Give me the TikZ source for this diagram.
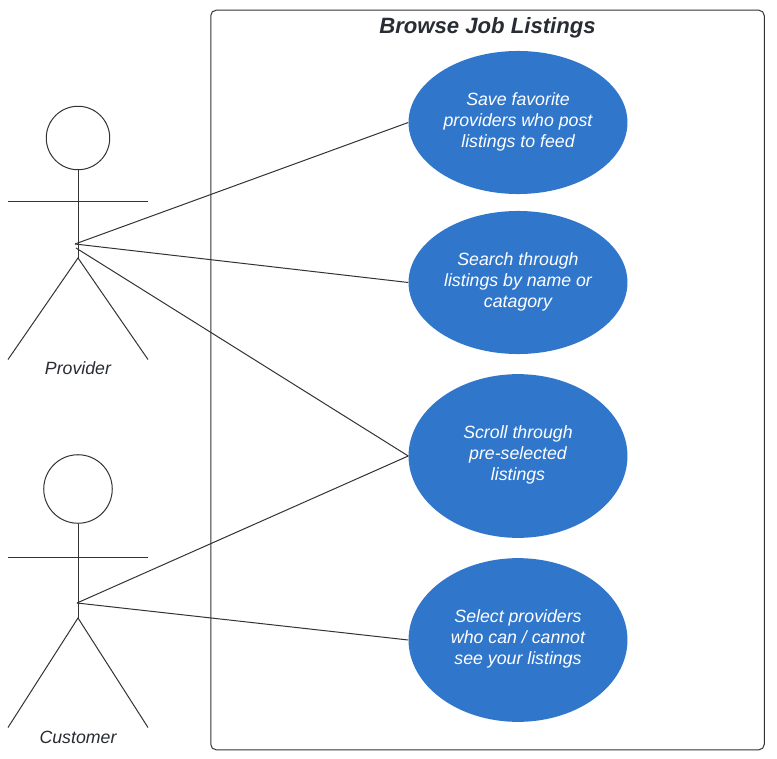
\documentclass[tikz,border=0pt]{standalone}
\usepackage{fontspec}
\setmainfont{Liberation Sans}
\usetikzlibrary{shapes.geometric}
\definecolor{usecase}{HTML}{3077CC}
\definecolor{ink}{HTML}{333333}
\definecolor{txt}{HTML}{282C33}
\tikzset{
  x=0.75pt,y=-0.75pt,
  ln/.style={draw=ink,line width=0.75pt},
  usecasenode/.style={ellipse,fill=usecase,draw=none,inner sep=0pt,minimum width=164.2pt,text=white,align=center,
    text depth=4pt,font=\fontsize{13.3}{15.75}\selectfont\itshape},
  actorlabel/.style={text=txt,inner sep=0pt,font=\fontsize{13.3}{15.75}\selectfont\itshape},
  titlelabel/.style={text=txt,inner sep=0pt,font=\fontsize{16.6}{20}\selectfont\bfseries\itshape},
}
\begin{document}
\begin{tikzpicture}
\useasboundingbox (0,0) rectangle (777,759);
\fill[white] (0,0) rectangle (777,759);
\node[draw=ink,line width=0.75pt,rounded corners=4pt,minimum width=553.5pt*0.75,minimum height=739.5pt*0.75,inner sep=0pt] (boundary) at (487.5,380) {};
\node[titlelabel] (title) at (487.5,27.5) {Browse Job Listings};
\node[usecasenode,minimum height=107.3pt] (uc1) at (518,122.5) {Save favorite\\providers who post\\listings to feed};
\node[usecasenode,minimum height=107.3pt] (uc2) at (518,282.5) {Search through\\listings by name or\\catagory};
\node[usecasenode,minimum height=122.8pt] (uc3) at (518,456) {Scroll through\\pre-selected\\listings};
\node[usecasenode,minimum height=122.8pt] (uc4) at (518,640) {Select providers\\who can / cannot\\see your listings};
% Provider
\node[circle,ln,inner sep=0pt,minimum size=47.6pt] (phead) at (78,138) {};
\coordinate (phip) at (78,258);
\coordinate (pla) at (8,201.5);
\coordinate (pra) at (148,201.5);
\coordinate (pll) at (8,359.5);
\coordinate (prl) at (148,359.5);
\coordinate (pa) at (75,244);
\coordinate (pb) at (76,248);
\draw[ln] (phead.south) -- (phip);
\draw[ln] (pla) -- (pra);
\draw[ln] (pll) -- (phip) -- (prl);
\node[actorlabel] (plabel) at (78,368.5) {Provider};
% Customer
\node[circle,ln,inner sep=0pt,minimum size=51.4pt] (chead) at (78,489) {};
\coordinate (chip) at (78,618);
\coordinate (cla) at (8,557.5);
\coordinate (cra) at (148,557.5);
\coordinate (cll) at (8,727.5);
\coordinate (crl) at (148,727.5);
\coordinate (ca) at (77,603);
\draw[ln] (chead.south) -- (chip);
\draw[ln] (cla) -- (cra);
\draw[ln] (cll) -- (chip) -- (crl);
\node[actorlabel] (clabel) at (78,737) {Customer};
% Connectors
\draw[ln] (pa) -- (uc1.west);
\draw[ln] (pa) -- (uc2.west);
\draw[ln] (pb) -- (uc3.west);
\draw[ln] (ca) -- (uc3.west);
\draw[ln] (ca) -- (uc4.west);
\end{tikzpicture}
\end{document}
